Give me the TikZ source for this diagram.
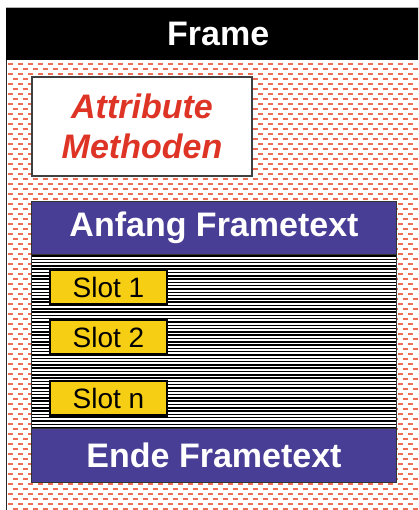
\documentclass[tikz,border=0pt]{standalone}
\usepackage{fontspec}
\setmainfont{Liberation Sans}
\definecolor{dashred}{RGB}{236,110,85}
\definecolor{framepurple}{RGB}{72,62,150}
\definecolor{slotyellow}{RGB}{246,206,20}
\definecolor{attrred}{RGB}{222,52,38}
\tikzset{
  bigtext/.style={font=\fontsize{34}{40}\selectfont\bfseries},
  slotbox/.style={draw=black, line width=1.2pt, fill=slotyellow, minimum width=117pt, minimum height=34pt, inner sep=0pt, font=\fontsize{28}{32}\selectfont, text=black},
  bandbox/.style={fill=framepurple, minimum width=364pt, inner sep=0pt, text=white, bigtext},
}
\begin{document}
\begin{tikzpicture}[x=1pt,y=-1pt]
\useasboundingbox (0,0) rectangle (418,510);
\clip (0,0) rectangle (418,510);
% background pattern of red dashes
\foreach \i in {0,...,89}{
  \pgfmathsetmacro{\yy}{64+5*\i}
  \pgfmathsetmacro{\ph}{mod(\i,2)*5}
  \draw[dashred, line width=1.3pt, dash pattern=on 5pt off 5pt, dash phase=\ph pt] (8,\yy) -- (425,\yy);
}
% outer frame and title bar
\draw[black!85, line width=1.2pt] (6.5,8) rectangle (430,530);
\node[fill=black, minimum width=424pt, minimum height=52pt, inner sep=0pt, anchor=north west, text=white, bigtext] (title) at (6,8) {Frame};
\draw[gray!60, line width=0.8pt] (6,7.4) -- (418,7.4);
% Attribute box
\node[draw=black!75, line width=1.5pt, fill=white, minimum width=220pt, minimum height=99pt, align=center, text=attrred, font=\fontsize{34}{40}\selectfont\bfseries\itshape] (attr) at (142,126.5) {Attribute\\Methoden};
% body with stripes
\node[fill=white, minimum width=364pt, minimum height=175pt, inner sep=0pt] (body) at (214,341.5) {};
\foreach \j in {0,...,52}{
  \pgfmathsetmacro{\yy}{256+3.3*\j}
  \draw[black, line width=1.5pt] (32,\yy) -- (396,\yy);
}
\node[bandbox, minimum height=52pt] (anfang) at (214,228) {Anfang Frametext};
\node[bandbox, minimum height=53pt] (ende) at (214,455.5) {Ende Frametext};
\draw[black!80, line width=1pt] (anfang.north west) rectangle (ende.south east);
\draw[black!80, line width=1pt] (anfang.south west) -- (anfang.south east);
\draw[black!80, line width=1pt] (ende.north west) -- (ende.north east);
% slots
\node[slotbox] (s1) at (108.5,287) {Slot 1};
\node[slotbox] (s2) at (108.5,337) {Slot 2};
\node[slotbox] (sn) at (108.5,398) {Slot n};
\foreach \s in {s1,s2,sn}{
  \draw[black, line width=2.4pt] ([yshift=-0.6pt]\s.south west) -- ([yshift=-0.6pt]\s.south east);
}
\end{tikzpicture}
\end{document}
